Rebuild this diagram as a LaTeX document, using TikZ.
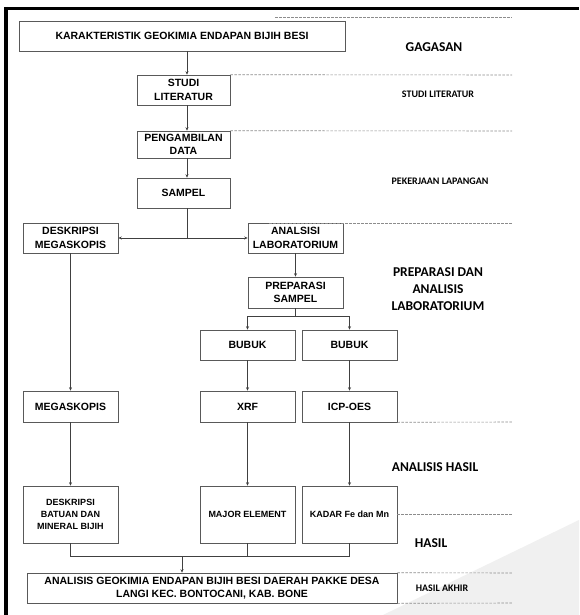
\documentclass[tikz,border=0pt]{standalone}
\usepackage{fontspec}
\setmainfont{Liberation Sans}
\newfontfamily\calfont{Carlito}
\usetikzlibrary{arrows.meta}
\begin{document}
\begin{tikzpicture}[x=1pt,y=-1pt,
  box/.style={draw=black!65,line width=0.6pt,fill=white,align=center,inner sep=1pt,
    font=\fontsize{10.5}{13.5}\selectfont\bfseries},
  sbox/.style={box,font=\fontsize{9}{12}\selectfont\bfseries},
  arr/.style={draw=black!75,line width=0.6pt,-{Stealth[length=3.5pt,width=3pt]}},
  ln/.style={draw=black!75,line width=0.6pt},
  dsh/.style={draw=black!45,line width=0.6pt,dash pattern=on 2.5pt off 1.5pt},
  lab/.style={align=center,font=\calfont\fontsize{13.5}{17}\selectfont\bfseries},
  slab/.style={align=center,font=\calfont\fontsize{10}{12}\selectfont\bfseries}]
\useasboundingbox (0,0) rectangle (579,615);
\fill[white] (0,0) rectangle (579,615);
\fill[black!6] (383,615) -- (579,520) -- (579,615) -- cycle;
% frame
\draw[line width=3.5pt,black] (4,8.5) -- (579,8.5);
\draw[line width=3.5pt,black] (5.8,7) -- (5.8,615);
% boxes
\node[box,minimum width=326pt,minimum height=30pt] (k) at (182,36) {KARAKTERISTIK GEOKIMIA ENDAPAN BIJIH BESI};
\node[box,minimum width=93pt,minimum height=30pt] (sl) at (183.5,90) {STUDI\\LITERATUR};
\node[box,minimum width=93pt,minimum height=27pt] (pd) at (183.5,144.5) {PENGAMBILAN\\DATA};
\node[box,minimum width=93pt,minimum height=30pt] (sam) at (183.5,193) {SAMPEL};
\node[box,minimum width=95pt,minimum height=30pt] (dm) at (70.5,238) {DESKRIPSI\\MEGASKOPIS};
\node[box,minimum width=95pt,minimum height=30pt] (al) at (295.5,238) {ANALSISI\\LABORATORIUM};
\node[box,minimum width=95pt,minimum height=31pt] (ps) at (295.5,292.5) {PREPARASI\\SAMPEL};
\node[box,minimum width=95pt,minimum height=30pt] (b1) at (247.5,345) {BUBUK};
\node[box,minimum width=95pt,minimum height=30pt] (b2) at (349.5,345) {BUBUK};
\node[box,minimum width=95pt,minimum height=31pt] (mg) at (70.5,406.5) {MEGASKOPIS};
\node[box,minimum width=95pt,minimum height=31pt] (xrf) at (247.5,406.5) {XRF};
\node[box,minimum width=95pt,minimum height=31pt] (icp) at (349.5,406.5) {ICP-OES};
\node[sbox,minimum width=95pt,minimum height=57pt] (db) at (70.5,514.5) {DESKRIPSI\\BATUAN DAN\\MINERAL BIJIH};
\node[sbox,minimum width=95pt,minimum height=57pt] (me) at (247.5,514.5) {MAJOR ELEMENT};
\node[sbox,minimum width=95pt,minimum height=57pt] (kd) at (349.5,514.5) {KADAR Fe dan Mn};
\node[box,minimum width=370pt,minimum height=30pt] (fin) at (212,588) {ANALISIS GEOKIMIA ENDAPAN BIJIH BESI DAERAH PAKKE DESA\\LANGI KEC. BONTOCANI, KAB. BONE};
% connectors
\draw[arr] (k.south -| 187,0) -- (sl.north -| 187,0);
\draw[arr] (sl.south -| 187,0) -- (pd.north -| 187,0);
\draw[arr] (pd.south -| 187,0) -- (sam.north -| 187,0);
\coordinate (s1) at (187,238);
\draw[ln] (sam.south -| s1) -- (s1);
\draw[arr] (s1) -- (dm.east);
\draw[arr] (s1) -- (al.west);
\draw[arr] (al.south) -- (ps.north);
\coordinate (s2) at (295.5,316);
\draw[ln] (ps.south) -- (s2);
\draw[ln] (b1.north |- s2) -- (b2.north |- s2);
\draw[arr] (b1.north |- s2) -- (b1.north);
\draw[arr] (b2.north |- s2) -- (b2.north);
\draw[arr] (dm.south) -- (mg.north);
\draw[arr] (b1.south) -- (xrf.north);
\draw[arr] (b2.south) -- (icp.north);
\draw[arr] (mg.south) -- (db.north);
\draw[arr] (xrf.south) -- (me.north);
\draw[arr] (icp.south) -- (kd.north);
\coordinate (s3) at (182,556);
\draw[ln] (db.south) -- (db.south |- s3) -- (kd.south |- s3) -- (kd.south);
\draw[ln] (me.south) -- (me.south |- s3);
\draw[arr] (s3) -- (fin.north -| s3);
% dashed separators
\draw[dsh] (275,17) -- (512,17);
\draw[dsh] (sl.north east) -- (512,75);
\draw[dsh] (pd.north east) -- (512,131);
\draw[dsh] (269,223) -- (512,223);
\draw[dsh] (icp.south east) -- (512,422);
\draw[dsh] (kd.east) -- (512,514.5);
\draw[dsh] (fin.north east) -- (512,573);
\draw[dsh] (fin.south east) -- (512,603);
% stage labels
\node[lab] (l1) at (434,47) {GAGASAN};
\node[slab] (l2) at (438,94) {STUDI LITERATUR};
\node[slab] (l3) at (440,181) {PEKERJAAN LAPANGAN};
\node[lab] (l4) at (438,289) {PREPARASI DAN\\ANALISIS\\LABORATORIUM};
\node[lab] (l5) at (435,467) {ANALISIS HASIL};
\node[lab] (l6) at (431,543) {HASIL};
\node[slab] (l7) at (442,588) {HASIL AKHIR};
\end{tikzpicture}
\end{document}
